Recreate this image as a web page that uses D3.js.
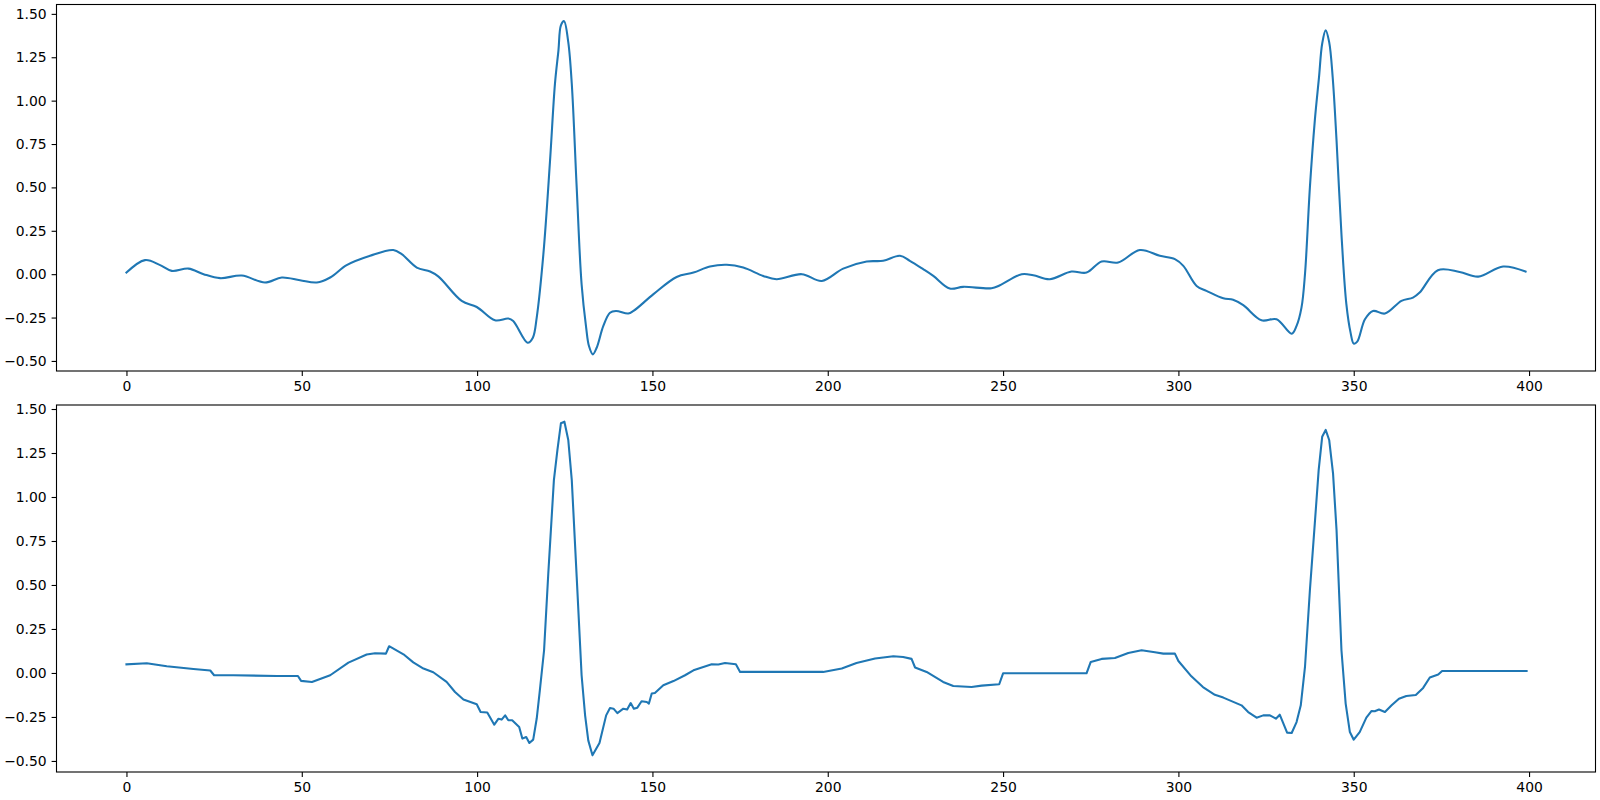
<!DOCTYPE html>
<html>
<head>
<meta charset="utf-8">
<script src="https://cdn.jsdelivr.net/npm/d3@7"></script>
<style>
  body { margin: 0; background: #fff; }
  svg { display: block; }
  .tick text { font-family: "DejaVu Sans", sans-serif; font-size: 13.9px; fill: #000; }
</style>
</head>
<body>
<svg id="chart" width="1600" height="800"></svg>
<script>
/* sample index (x) and value (y), top panel (smooth signal) */
const topIdx = [0, 5.3, 9.6, 12.9, 17.7, 22, 26.7, 32.9, 39.5, 44.3, 49.5, 54.3, 58.1, 62.8,
  69.5, 76.1, 78.5, 82.8, 86.6, 89, 95.6, 99.9, 105.1, 108.9, 110.3, 114.4, 115.9, 117, 118.9,
  120.8, 122.2, 123.2, 123.9, 124.8, 126, 127, 128.4, 129.8, 131.1, 131.9, 133, 134.1, 136,
  137.9, 139.6, 143.1, 144.6, 150.3, 156.9, 161.7, 166.4, 171.2, 175.9, 181.6, 185.4, 192.6,
  198.3, 204.4, 211.1, 215.8, 220.6, 223.4, 227.2, 230.1, 234.8, 238.6, 246.7, 249.1, 255.3,
  258.6, 263.3, 269.5, 273.8, 278.1, 282.8, 289, 294.7, 299, 301.4, 305.2, 308, 312.8, 315.6,
  318.5, 323.7, 328, 332.3, 333.7, 335.1, 336.1, 337.5, 338.9, 340.1, 341, 342, 343, 344,
  345.1, 346.5, 347.9, 349.1, 350, 351, 353.2, 355.5, 358.9, 363.6, 366.9, 368.8, 374, 380.2,
  385.5, 392.6, 399];
const topVal = [0.009, 0.081, 0.052, 0.019, 0.032, 0.000, -0.023, -0.008, -0.048, -0.019, -0.035,
  -0.048, -0.019, 0.052, 0.106, 0.139, 0.115, 0.038, 0.015, -0.014, -0.154, -0.189, -0.266,
  -0.256, -0.270, -0.395, -0.366, -0.250, 0.115, 0.654, 1.097, 1.290, 1.434, 1.458, 1.337,
  1.097, 0.500, -0.058, -0.308, -0.414, -0.462, -0.424, -0.298, -0.222, -0.212, -0.227,
  -0.212, -0.115, -0.016, 0.009, 0.044, 0.054, 0.038, -0.010, -0.029, 0.000, -0.039, 0.032,
  0.073, 0.077, 0.106, 0.077, 0.029, -0.010, -0.083, -0.073, -0.081, -0.064, 0.000, -0.006,
  -0.029, 0.015, 0.009, 0.073, 0.067, 0.139, 0.106, 0.087, 0.048, -0.068, -0.096, -0.139,
  -0.148, -0.179, -0.266, -0.260, -0.343, -0.298, -0.193, 0.000, 0.500, 0.885, 1.135, 1.328,
  1.405, 1.337, 1.135, 0.770, 0.230, -0.173, -0.337, -0.400, -0.389, -0.260, -0.212, -0.227,
  -0.154, -0.135, -0.106, 0.023, 0.013, -0.014, 0.044, 0.015];

/* bottom panel (signal with flat gaps) */
const botIdx = [0, 5.8, 11.5, 19.1, 23.9, 25, 30.5, 42.9, 48.9, 49.8, 52.9, 58.1, 63.3, 68.5,
  70.9, 74, 74.9, 79, 81.8, 84.7, 87.5, 91.3, 93.7, 96.1, 99.9, 101, 102.9, 104.9, 106.1, 107,
  108, 108.9, 110, 112, 112.9, 114, 114.9, 116, 117, 117.9, 119.1, 120.3, 121.9, 122.9, 123.9,
  124.9, 126, 127, 128.4, 129.8, 130.8, 131.7, 132.9, 134.9, 136.8, 137.9, 138.9, 140, 141.7,
  142.8, 143.8, 144.7, 145.7, 146.9, 148.4, 149, 149.8, 150.7, 153.1, 156, 159.3, 161.7,
  166.9, 168.8, 170.7, 173.8, 175, 198.7, 204, 208.2, 213.5, 218.7, 221.5, 223.9, 224.9,
  228.2, 232.9, 235.8, 241, 243.9, 248.9, 250, 273.8, 275, 278.1, 281.9, 285.7, 289.5, 293.3,
  295.7, 299, 300, 303.7, 307, 310.4, 312.8, 318, 319.9, 322.3, 324.2, 326.1, 327.8, 328.9,
  331, 332.3, 333.7, 334.9, 336.1, 337.5, 338.9, 340, 341, 342, 343, 344.1, 345.1, 346.5,
  347.7, 348.9, 350, 351.7, 353.6, 355.1, 356, 357.2, 358.9, 360.8, 362.9, 365, 367.7, 369.8,
  371.7, 374.1, 375.2, 399.3];
const botVal = [0.049, 0.055, 0.038, 0.023, 0.014, -0.013, -0.013, -0.017, -0.017, -0.045, -0.051,
  -0.013, 0.059, 0.105, 0.112, 0.110, 0.152, 0.106, 0.060, 0.025, 0.004, -0.051, -0.108,
  -0.151, -0.178, -0.222, -0.225, -0.294, -0.260, -0.265, -0.241, -0.269, -0.269, -0.307,
  -0.373, -0.364, -0.398, -0.379, -0.259, -0.098, 0.129, 0.565, 1.096, 1.267, 1.419, 1.428,
  1.324, 1.096, 0.546, -0.013, -0.241, -0.383, -0.468, -0.398, -0.241, -0.199, -0.203,
  -0.228, -0.203, -0.208, -0.171, -0.203, -0.197, -0.161, -0.165, -0.174, -0.117, -0.114,
  -0.070, -0.046, -0.013, 0.015, 0.049, 0.048, 0.057, 0.049, 0.006, 0.006, 0.025, 0.057,
  0.082, 0.095, 0.091, 0.080, 0.031, 0.006, -0.051, -0.074, -0.080, -0.072, -0.064, -0.002,
  -0.002, 0.063, 0.080, 0.085, 0.114, 0.129, 0.118, 0.110, 0.110, 0.068, -0.019, -0.080,
  -0.124, -0.140, -0.184, -0.222, -0.254, -0.241, -0.241, -0.260, -0.237, -0.339, -0.341,
  -0.279, -0.184, 0.034, 0.470, 0.850, 1.153, 1.342, 1.381, 1.324, 1.134, 0.812, 0.129,
  -0.174, -0.336, -0.379, -0.336, -0.254, -0.216, -0.218, -0.208, -0.222, -0.184, -0.146,
  -0.131, -0.125, -0.085, -0.026, -0.009, 0.011, 0.011];

const xTicks = [0, 50, 100, 150, 200, 250, 300, 350, 400];
const yTicks = [-0.5, -0.25, 0, 0.25, 0.5, 0.75, 1.0, 1.25, 1.5];
const nSamples = 400;

const svg = d3.select('#chart');
const left = 56.5;
const right = 1595.5;

// matplotlib-style 5% padding around the data extent
function padded(lo, hi) {
  const m = (hi - lo) * 0.05;
  return [lo - m, hi + m];
}

function drawPanel(idx, val, top, bottom, curve) {
  const x = d3.scaleLinear().domain(padded(0, nSamples - 1)).range([left, right]);
  const y = d3.scaleLinear().domain(padded(d3.min(val), d3.max(val))).range([bottom, top]);

  const g = svg.append('g');

  const minus = (s) => s.replace('-', '\u2212');

  g.append('g')
    .attr('transform', `translate(0,${bottom})`)
    .call(d3.axisBottom(x).tickValues(xTicks).tickFormat((d) => minus(String(d)))
      .tickSizeInner(4.9).tickSizeOuter(0).tickPadding(4.9))
    .call((a) => a.select('.domain').remove())
    .call((a) => a.selectAll('line').attr('stroke-width', 1.1));

  g.append('g')
    .attr('transform', `translate(${left},0)`)
    .call(d3.axisLeft(y).tickValues(yTicks).tickFormat((d) => minus(d3.format('.2f')(d)))
      .tickSizeInner(4.9).tickSizeOuter(0).tickPadding(4.9))
    .call((a) => a.select('.domain').remove())
    .call((a) => a.selectAll('line').attr('stroke-width', 1.1));

  const line = d3.line()
    .x((d, i) => x(idx[i]))
    .y((d) => y(d))
    .curve(curve);

  g.append('path')
    .datum(val)
    .attr('d', line)
    .attr('fill', 'none')
    .attr('stroke', '#1f77b4')
    .attr('stroke-width', 2.08)
    .attr('stroke-linejoin', 'round')
    .attr('stroke-linecap', 'square');

  g.append('rect')
    .attr('x', left)
    .attr('y', top)
    .attr('width', right - left)
    .attr('height', bottom - top)
    .attr('fill', 'none')
    .attr('stroke', '#000')
    .attr('stroke-width', 1.1);
}

// top trace is a filtered, smooth signal; bottom one is drawn straight point to point
drawPanel(topIdx, topVal, 4.5, 371, d3.curveCatmullRom.alpha(0.5));
drawPanel(botIdx, botVal, 405, 772, d3.curveLinear);
</script>
</body>
</html>
